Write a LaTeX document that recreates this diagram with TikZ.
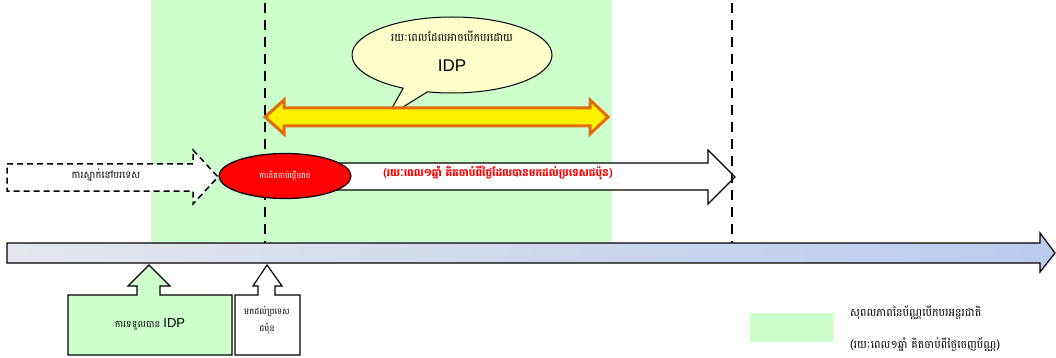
\documentclass[tikz,border=0pt]{standalone}
\usepackage{fontspec}
\setmainfont{Liberation Sans}
\newfontfamily\khmer[Script=Khmer]{Battambang}
\usetikzlibrary{shapes.geometric,shapes.callouts,positioning}
\definecolor{validgreen}{HTML}{CCFFCC}
\definecolor{bubbleyellow}{HTML}{FFFFCC}
\definecolor{rangeorange}{HTML}{E36C09}
\definecolor{axisleft}{HTML}{E4E6EC}
\definecolor{axisright}{HTML}{B9CBEE}
\tikzset
{
    khtext/.style   = {font=\khmer\fontsize{8.5}{10}\selectfont, align=center, inner sep=0pt},
    idptext/.style  = {font=\fontsize{17}{19}\selectfont, inner sep=0pt},
    blockarrow/.style = {draw=black, line width=1.2pt, line join=miter},
    limitline/.style  = {draw=black, line width=2.6pt, dash pattern=on 10pt off 7pt},
    redtext/.style  = {font=\khmer\bfseries\fontsize{10.5}{12}\selectfont, text=red, inner sep=0pt}
}

\begin{document}
\begin{tikzpicture}[x=1pt, y=-1pt]
\useasboundingbox (0,0) rectangle (1056,358);
% validity period of the permit
\fill[validgreen] (151,0) rectangle (612,242);
% speech bubble
\node(bubble) [ellipse callout, draw=black, line width=1pt, fill=bubbleyellow, minimum width=200pt, minimum height=76pt, callout absolute pointer={(387,117)}] at (452,55) {};
\node(bubbletop) [khtext, font=\khmer\fontsize{11}{13}\selectfont] at (452,36) {រយៈពេលដែលអាចបើកបរដោយ};
\node(bubbleidp) [idptext] at (452,66) {IDP};
% driving range
\draw[draw=rangeorange, fill=yellow, line width=3pt, line join=miter] (265,117) -- (284,100) -- (284,108) -- (590,108) -- (590,100) -- (608,117) -- (590,134) -- (590,126) -- (284,126) -- (284,134) -- cycle;
% stay abroad
\draw[blockarrow, fill=white, line width=1.5pt, dash pattern=on 6pt off 4pt] (7,164) -- (193,164) -- (193,150) -- (218,177) -- (193,204) -- (193,191) -- (7,191) -- cycle;
\node(abroad) [khtext, font=\khmer\fontsize{10}{12}\selectfont] at (106,175) {ការស្នាក់នៅបរទេស};
% one year from arrival
\draw[blockarrow, fill=white] (290,163) -- (708,163) -- (708,150) -- (735,177) -- (708,204) -- (708,190) -- (290,190) -- cycle;
\node(oneyear) [redtext] at (498,173) {(រយៈពេល១ឆ្នាំ គិតចាប់ពីថ្ងៃដែលបានមកដល់ប្រទេសជប៉ុន)};
\draw[limitline] (265,3) -- (265,245);
\draw[limitline] (732,3) -- (732,245);
\node(countstart) [ellipse, draw=black, line width=1.2pt, fill=red, minimum width=132pt, minimum height=45pt, inner sep=0pt, font=\khmer\fontsize{7.8}{9}\selectfont, text=white] at (285,176) {ការគិតចាប់ផ្ដើមរាប់};
% time axis
\shade[left color=axisleft, right color=axisright] (7,243) -- (1040,243) -- (1040,233) -- (1055,253) -- (1040,272) -- (1040,263) -- (7,263) -- cycle;
\draw[blockarrow] (7,243) -- (1040,243) -- (1040,233) -- (1055,253) -- (1040,272) -- (1040,263) -- (7,263) -- cycle;
% events
\draw[blockarrow, fill=validgreen] (68,295) -- (137,295) -- (137,286) -- (128,286) -- (149,265) -- (170,286) -- (160,286) -- (160,295) -- (232,295) -- (232,355) -- (68,355) -- cycle;
\node(getidp) [khtext, font=\khmer\fontsize{9.5}{11}\selectfont] at (150,324) {ការទទួលបាន {\rmfamily\fontsize{13}{15}\selectfont IDP}};
\draw[blockarrow, fill=white] (235,295) -- (258,295) -- (258,286) -- (253,286) -- (267,265) -- (282,286) -- (275,286) -- (275,295) -- (300,295) -- (300,355) -- (235,355) -- cycle;
\node(arrival) [khtext] at (267,311) {មកដល់ប្រទេស};
\node(japan) [khtext, below=18pt of arrival.center, anchor=center] {ជប៉ុន};
% legend
\fill[validgreen] (750,313) rectangle (833,342);
\node(legendtop) [khtext, font=\khmer\fontsize{11}{13}\selectfont, anchor=west] at (850,313) {សុពលភាពនៃប័ណ្ណបើកបរអន្តរជាតិ};
\node(legendbottom) [khtext, font=\khmer\fontsize{11}{13}\selectfont, anchor=west] at (850,345) {(រយៈពេល១ឆ្នាំ គិតចាប់ពីថ្ងៃចេញប័ណ្ណ)};
\end{tikzpicture}
\end{document}
